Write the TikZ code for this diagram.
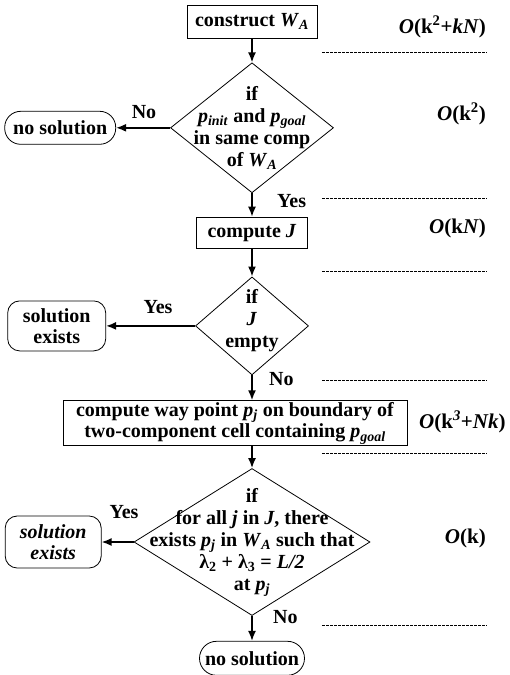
\documentclass[tikz,border=0pt]{standalone}
\usepackage{fontspec}
\setmainfont{Liberation Serif}
\usetikzlibrary{arrows.meta,positioning,shapes.geometric}
\newcommand{\mi}[1]{\textit{#1}}
\newcommand{\lo}[1]{\textsubscript{#1}}
\newcommand{\hi}[1]{\textsuperscript{#1}}

\begin{document}
\begin{tikzpicture}[x=1pt,y=-1pt,>={Latex[length=10pt,width=8pt]},
  font=\fontsize{20}{22}\selectfont\bfseries,
  box/.style={draw,line width=.8pt,inner sep=0pt,align=center},
  term/.style={box,rounded corners=#1},
  decision/.style={diamond,draw,line width=.8pt,inner sep=0pt},
  flow/.style={->,line width=1.6pt},
  lbl/.style={inner sep=0pt},
  cplx/.style={lbl,font=\fontsize{21}{24}\selectfont\bfseries},
  sep/.style={line width=.5pt,dash pattern=on 2.5pt off 1.5pt}]
  \useasboundingbox (0,0) rectangle (509,675);
  \node[box,minimum width=130pt,minimum height=33pt] (wa) at (252,21.5) {construct \mi{W}\lo{\mi{A}}};
  \node[decision,minimum width=163pt,minimum height=130pt,below=24pt of wa] (d1) {};
  \node[align=center] (d1t) at (d1) {if\\\mi{p}\lo{\mi{init}} and \mi{p}\lo{\mi{goal}}\\in same comp\\of \mi{W}\lo{\mi{A}}};
  \node[term=16pt,minimum width=111pt,minimum height=33pt,left=54pt of d1] (ns1) {no solution};
  \node[box,minimum width=111pt,minimum height=31pt,below=23.5pt of d1] (cj) {compute \mi{J}};
  \node[decision,minimum width=113pt,minimum height=98pt,below=28pt of cj] (d2) {};
  \node[align=center,yshift=5pt] (d2t) at (d2) {if\\\mi{J}\\empty};
  \node[term=12pt,minimum width=98pt,minimum height=50pt,left=89pt of d2,font=\fontsize{20}{21}\selectfont\bfseries] (se1) {solution\\exists};
  \node[box,minimum width=344pt,minimum height=45pt,below=25pt of d2,xshift=-17pt,font=\fontsize{20}{21.5}\selectfont\bfseries] (wp)
    {compute way point \mi{p}\lo{\mi{j}} on boundary of\\two-component cell containing \mi{p}\lo{\mi{goal}}};
  \node[decision,minimum width=236pt,minimum height=147pt,below=22pt of wp,xshift=17pt] (d3) {};
  \node[align=center] (d3t) at (d3) {if\\for all \mi{j} in \mi{J}, there\\exists \mi{p}\lo{\mi{j}} in \mi{W}\lo{\mi{A}} such that\\λ\lo{2} + λ\lo{3} = \mi{L/2}\\at \mi{p}\lo{\mi{j}}};
  \node[term=12pt,minimum width=96pt,minimum height=52pt,left=32pt of d3,font=\fontsize{20}{21}\selectfont\bfseries\itshape] (se2) {solution\\exists};
  \node[term=17pt,minimum width=105pt,minimum height=34pt,below=25pt of d3] (ns2) {no solution};
  \draw[flow] (wa) -- (d1);
  \draw[flow] (d1) -- (ns1);
  \draw[flow] (d1) -- (cj);
  \draw[flow] (cj) -- (d2);
  \draw[flow] (d2) -- (se1);
  \draw[flow] (d2.south) -- (d2.south |- wp.north);
  \draw[flow] (wp.south -| d3) -- (d3);
  \draw[flow] (d3) -- (se2);
  \draw[flow] (d3) -- (ns2);
  \node[lbl,anchor=base] (no1) at (144,118) {No};
  \node[lbl,anchor=base west] (yes1) at (277,207) {Yes};
  \node[lbl,anchor=base] (yes2) at (158,313) {Yes};
  \node[lbl,anchor=base west] (no2) at (269,385) {No};
  \node[lbl,anchor=base] (yes3) at (124,518) {Yes};
  \node[lbl,anchor=base west] (no3) at (273,623) {No};
  \node[cplx,anchor=base east] (c1) at (486,33) {\mi{O}(k\hi{2}+\mi{kN})};
  \node[cplx,anchor=base east] (c2) at (486,120) {\mi{O}(k\hi{2})};
  \node[cplx,anchor=base east] (c3) at (486,233) {\mi{O}(k\mi{N})};
  \node[cplx,anchor=base west] (c4) at (419,428) {\mi{O}(k\hi{\mi{3}}+\mi{Nk})};
  \node[cplx,anchor=base east] (c5) at (486,543) {\mi{O}(k)};
  \foreach \y in {52,198,271,380,453,625}
    \draw[sep] (322,\y) -- (487,\y);
\end{tikzpicture}
\end{document}
